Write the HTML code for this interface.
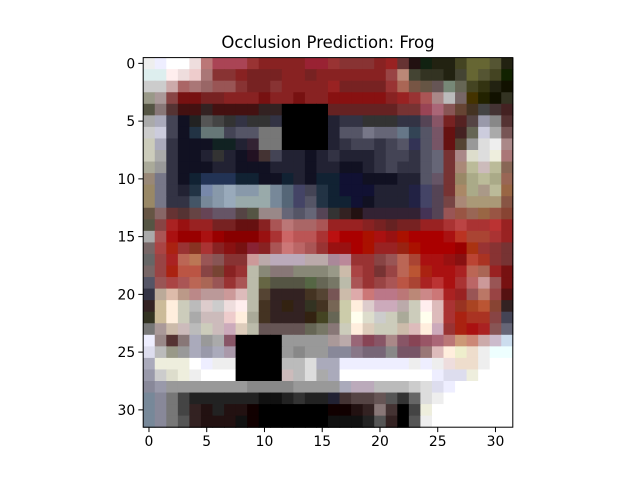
<!DOCTYPE html>
<html><head><meta charset="utf-8"><style>
html,body{margin:0;padding:0;background:#fff;}
svg{display:block;font-family:"DejaVu Sans","Liberation Sans",sans-serif;}
</style></head><body>
<svg id="chart" width="640" height="480" viewBox="0 0 640 480" xmlns="http://www.w3.org/2000/svg">
<rect width="640" height="480" fill="#fff"/>
<text x="328" y="48" text-anchor="middle" font-size="16.5" fill="#000">Occlusion Prediction: Frog</text>
<g id="cells"></g>
<g id="axes"></g>
</svg>
<script>
const pixelRows = [
"eee eef fff fff edd b77 a45 a45 a45 933 822 822 822 822 923 923 933 833 833 833 822 922 633 211 121 221 221 442 663 663 553 221",
"dee dee fee edd ecc a77 833 833 822 722 722 722 822 822 722 822 822 822 822 822 822 944 b87 443 332 332 221 443 663 553 442 120",
"ccc ccc caa a66 a77 966 955 955 833 722 722 833 822 822 822 822 922 722 722 722 722 933 a65 754 654 655 787 665 442 331 221 110",
"998 a99 844 711 711 722 722 822 822 822 711 822 822 711 822 822 811 811 811 811 811 822 922 933 a55 a88 bbb 766 430 220 110 332",
"554 877 533 411 411 322 411 411 411 411 322 322 000 000 000 000 622 622 622 622 622 622 733 733 945 a67 855 643 432 444 433 422",
"aaa aab 445 112 222 555 444 333 334 333 333 334 000 000 000 000 223 334 334 333 333 333 334 334 545 856 722 522 544 99a 888 533",
"ccc ccd 445 112 234 677 677 445 556 556 777 777 000 000 000 000 223 556 556 778 667 667 678 345 556 756 611 422 665 ccd aaa 755",
"ccb aab 334 112 112 112 122 122 223 323 777 777 000 000 000 000 223 334 445 445 334 445 556 335 556 756 611 543 999 ddd eee a88",
"ccb aaa 334 112 112 223 333 223 112 212 433 445 223 223 112 223 334 223 223 223 334 445 445 334 556 667 733 a88 ddc ddd eed a77",
"aa9 999 334 112 112 112 223 223 112 112 112 223 223 223 112 223 223 112 112 223 334 445 334 334 556 667 733 a87 bb9 cbb bb9 865",
"987 778 334 112 123 235 235 235 123 123 112 112 123 223 112 123 123 113 113 112 112 112 223 223 556 656 733 986 aa8 bb9 aa8 965",
"986 778 334 223 234 78a 89a 9ab 89a 89a 9aa 789 567 446 445 234 123 113 113 113 223 223 223 224 446 545 733 a86 aa8 a98 bb9 964",
"986 778 334 334 456 789 89a 9ab 9aa 9aa 9aa 789 567 446 556 234 123 123 113 112 223 223 223 224 446 545 744 a87 a97 a97 a97 854",
"654 866 633 533 644 645 656 656 544 554 988 988 667 556 667 545 333 322 211 323 323 323 323 323 435 545 955 954 965 964 954 843",
"554 844 a22 911 922 922 722 722 611 611 822 a55 b77 a66 a66 a55 922 922 922 822 722 622 722 722 922 922 a33 b44 a33 a33 b33 922",
"aaa a55 a11 900 900 a11 900 800 800 800 911 a33 c66 b55 b55 a33 b11 a00 a00 a10 a11 911 a10 a00 a00 a00 a11 b32 a43 a43 a33 922",
"766 a44 a21 933 832 a33 822 811 711 823 822 a55 c77 b66 a55 933 911 911 a00 a10 922 922 921 a10 a00 a00 a00 900 a31 933 833 733",
"666 944 a22 b65 b75 955 855 833 833 c99 baa bab bab bab baa baa a89 b89 933 933 844 955 b65 a43 a11 a11 911 811 b43 a32 833 733",
"766 944 a21 b54 b54 844 743 822 933 bba 887 877 877 887 887 887 998 cba a44 933 733 944 b65 b53 a21 a11 a11 a22 b65 a65 922 711",
"556 955 a44 a55 b65 a65 955 933 a55 bba 664 554 554 554 564 665 776 bba a55 933 944 a55 b54 a43 a22 b33 a11 a33 b66 c99 955 711",
"334 ba9 dba b98 b88 b99 b99 c99 dbb bba 543 322 322 322 432 543 755 cba daa c77 b78 b78 b77 b87 c88 c77 a22 922 955 b76 944 511",
"322 cb9 fed ccb bbb dcc ccc edd fee bba 432 322 321 322 332 432 765 cca fed dcc cab cab baa ccb fee dbb a33 932 a42 b53 843 322",
"332 cb9 fed ccb aaa cbb cbb ecc fed aa9 432 322 322 322 321 442 665 cca ffe ddc ccc ccb aa9 ccb ffe dbb a33 a21 a32 a32 844 445",
"777 a99 cba cbb bbb ccb cbb cab dcb bba 655 655 655 655 665 776 877 ccb fed dcb ccb ccb cba dbb fed cab 933 a21 a11 a22 855 667",
"eef 988 533 877 aab 999 aaa 856 000 000 000 000 999 999 999 999 a99 baa 967 845 856 a88 856 845 956 a67 b77 c97 c87 caa cbc cde",
"dde bbb 998 999 aab 99a aab a9a 000 000 000 000 999 888 999 999 889 889 878 767 767 888 756 756 977 dbb fed eec edc eee eff eff",
"aab eed eed eed fff eef eee eee 000 000 000 000 bbb bbb ddd aab aab eef eef eef eef eef eef eee eef eee edd edc edc eee fff fff",
"99a ccc ddc eed eee fff fff fff 000 000 000 000 cbb bbb ddd aaa aab fff fff fff fff fff fff fff fff eef dde dde eed fff fff fff",
"889 99a 999 999 999 999 999 999 999 888 888 888 888 999 999 999 999 aab bab bab bbb bbb bbb ccc ddd dde eef fff fff fff fff fff",
"789 889 777 444 222 222 222 222 222 222 111 111 222 333 222 222 223 433 544 544 655 555 333 666 ddd eee fff fff fff fff fff fff",
"789 889 777 444 322 211 222 211 211 100 000 000 000 000 000 000 100 100 211 322 877 433 000 444 eed fff fff fff fff fff fff fff",
"789 889 777 555 322 211 211 211 111 100 000 000 000 000 000 000 111 111 111 222 555 322 000 555 eee fff fff fff fff fff fff fff"
];
const tickValues = [0, 5, 10, 15, 20, 25, 30];
const tickLabels = ["0", "5", "10", "15", "20", "25", "30"];
const nCells = 32;

const NS = "http://www.w3.org/2000/svg";
const X0 = 143.2, Y0 = 57.6, SIZE = 369.6;
const cell = SIZE / nCells;
const xPos = c => X0 + c * cell;
const yPos = r => Y0 + r * cell;
const cells = document.getElementById('cells');
pixelRows.forEach((row, r) => {
  row.split(' ').forEach((col, c) => {
    const rect = document.createElementNS(NS, 'rect');
    
    
    rect.setAttribute('x', xPos(c));
    rect.setAttribute('y', yPos(r));
    rect.setAttribute('width', cell + 0.6);
    rect.setAttribute('height', cell + 0.6);
    rect.setAttribute('fill', '#' + col);
    cells.appendChild(rect);
  });
});
const axes = document.getElementById('axes');
const frame = document.createElementNS(NS, 'rect');


frame.setAttribute('x', X0); frame.setAttribute('y', Y0);
frame.setAttribute('width', SIZE); frame.setAttribute('height', SIZE);
frame.setAttribute('fill', 'none'); frame.setAttribute('stroke', '#000'); frame.setAttribute('stroke-width', '1');
axes.appendChild(frame);
tickValues.forEach((v, i) => {
  const cx = xPos(v + 0.5), cy = yPos(v + 0.5);
  const xt = document.createElementNS(NS, 'line');
  
  
  xt.setAttribute('x1', cx); xt.setAttribute('x2', cx);
  xt.setAttribute('y1', Y0 + SIZE); xt.setAttribute('y2', Y0 + SIZE + 4.9);
  xt.setAttribute('stroke', '#000');
  axes.appendChild(xt);
  const xl = document.createElementNS(NS, 'text');
  
  
  xl.setAttribute('x', cx); xl.setAttribute('y', Y0 + SIZE + 19);
  xl.setAttribute('text-anchor', 'middle'); xl.setAttribute('font-size', '13.9');
  xl.textContent = tickLabels[i];
  axes.appendChild(xl);
  const yt = document.createElementNS(NS, 'line');
  
  
  yt.setAttribute('x1', X0 - 4.9); yt.setAttribute('x2', X0);
  yt.setAttribute('y1', cy); yt.setAttribute('y2', cy);
  yt.setAttribute('stroke', '#000');
  axes.appendChild(yt);
  const yl = document.createElementNS(NS, 'text');
  
  
  yl.setAttribute('x', X0 - 8); yl.setAttribute('y', cy + 5);
  yl.setAttribute('text-anchor', 'end'); yl.setAttribute('font-size', '13.9');
  yl.textContent = tickLabels[i];
  axes.appendChild(yl);
});
</script>
</body></html>
